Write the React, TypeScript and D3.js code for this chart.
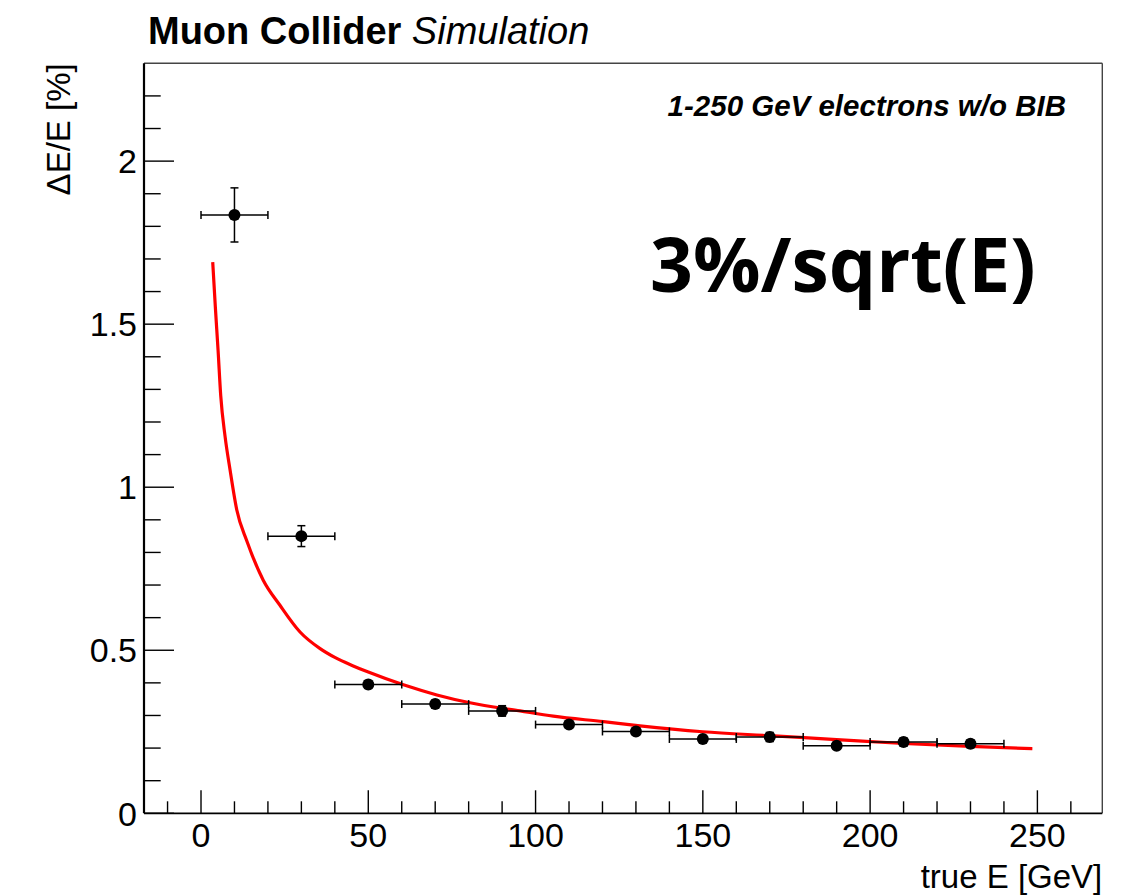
import React from "react";
import * as d3 from "d3";

// ---- data ----
const pointE = [10, 30, 50, 70, 90, 110, 130, 150, 170, 190, 210, 230];
const pointRes = [1.835, 0.85, 0.395, 0.335, 0.314, 0.272, 0.251, 0.228, 0.234, 0.207, 0.219, 0.213];
const pointErrY = [0.083, 0.032, 0.012, 0.012, 0.016, 0.01, 0.01, 0.01, 0.014, 0.01, 0.012, 0.012];
const pointErrX = [10, 10, 10, 10, 10, 10, 10, 10, 10, 10, 10, 10];

const fitE = [3.5, 4.3, 5.1, 5.9, 7.2, 8.7, 10.7, 13.7, 18.6, 23.6, 29.6, 35.6, 40, 45.5, 50, 60.5, 70.5, 80.4, 95.4, 105.3, 120.3, 131.2, 150, 170, 190, 210, 230, 248.5];
const fitRes = [1.69, 1.55, 1.42, 1.28, 1.155, 1.052, 0.93, 0.835, 0.715, 0.638, 0.556, 0.505, 0.478, 0.452, 0.433, 0.394, 0.363, 0.339, 0.314, 0.298, 0.281, 0.268, 0.25, 0.238, 0.226, 0.214, 0.205, 0.198];

const xMajorTicks = [0, 50, 100, 150, 200, 250];
const yMajorTicks = [0, 0.5, 1, 1.5, 2];
const yTickLabels = ["0", "0.5", "1", "1.5", "2"];

const W = 1137;
const H = 895;
const left = 144;
const right = 1102.3;
const top = 63.3;
const bottom = 813.3;

export default function App() {
  const x = d3.scaleLinear().domain([-17.04, 269.4]).range([left, right]);
  const y = d3.scaleLinear().domain([0, 2.3]).range([bottom, top]);

  const xMinor = d3.range(-10, 261, 10).filter((v) => v % 50 !== 0);
  const yMinor = d3.range(0.1, 2.25, 0.1).filter((v) => Math.abs(Math.round(v * 2) - v * 2) > 1e-6);

  const fitLine = d3
    .line<number>()
    .x((_, i) => x(fitE[i]))
    .y((d) => y(d))
    .curve(d3.curveMonotoneX)(fitRes) as string;

  const helv = "'Liberation Sans', Arial, Helvetica, sans-serif";
  const cap = 4;

  return (
    <svg width={W} height={H} style={{ position: "absolute", left: 0, top: 0, background: "#fff" }}>
      <rect x={0} y={0} width={W} height={H} fill="#fff" />
      {/* title */}
      <text x={148} y={44} fontFamily={helv} fontSize={38} fill="#000">
        <tspan fontWeight="bold">Muon Collider</tspan>
        <tspan fontStyle="italic"> Simulation</tspan>
      </text>

      {/* frame */}
      <line x1={left} x2={right} y1={top} y2={top} stroke="#444" strokeWidth={1.4} />
      <line x1={right} x2={right} y1={top} y2={bottom} stroke="#444" strokeWidth={1.4} />
      <line x1={left} x2={right} y1={bottom} y2={bottom} stroke="#000" strokeWidth={1.7} />
      <line x1={left} x2={left} y1={top} y2={bottom} stroke="#000" strokeWidth={2.2} />

      {/* x ticks */}
      {xMajorTicks.map((t) => (
        <g key={"xm" + t}>
          <line x1={x(t)} x2={x(t)} y1={bottom} y2={bottom - 23} stroke="#000" strokeWidth={1.4} />
          <text x={x(t)} y={847} textAnchor="middle" fontFamily={helv} fontSize={34} fill="#000">
            {t}
          </text>
        </g>
      ))}
      {xMinor.map((t) => (
        <line key={"xn" + t} x1={x(t)} x2={x(t)} y1={bottom} y2={bottom - 12} stroke="#000" strokeWidth={1.4} />
      ))}

      {/* y ticks */}
      {yMajorTicks.map((t, i) => (
        <g key={"ym" + t}>
          <line x1={left} x2={left + 30} y1={y(t)} y2={y(t)} stroke="#000" strokeWidth={1.4} />
          <text x={137} y={y(t)} dy="0.36em" textAnchor="end" fontFamily={helv} fontSize={34} fill="#000">
            {yTickLabels[i]}
          </text>
        </g>
      ))}
      {yMinor.map((t) => (
        <line key={"yn" + t.toFixed(1)} x1={left} x2={left + 16.7} y1={y(t)} y2={y(t)} stroke="#000" strokeWidth={1.4} />
      ))}

      {/* axis titles */}
      <text
        transform={`translate(70,${top}) rotate(-90)`}
        textAnchor="end"
        fontFamily={helv}
        fontSize={33}
        fill="#000"
      >
        ΔE/E [%]
      </text>
      <text x={right} y={888} textAnchor="end" fontFamily={helv} fontSize={33} fill="#000">
        true E [GeV]
      </text>

      {/* fit curve */}
      <path d={fitLine} fill="none" stroke="#ff0000" strokeWidth={3.2} />

      {/* data points */}
      {pointE.map((e, i) => {
        const cx = x(e);
        const cy = y(pointRes[i]);
        const x0 = x(e - pointErrX[i]);
        const x1 = x(e + pointErrX[i]);
        const y0 = y(pointRes[i] - pointErrY[i]);
        const y1 = y(pointRes[i] + pointErrY[i]);
        return (
          <g key={"p" + i} stroke="#000" strokeWidth={1.5}>
            <line x1={x0} x2={x1} y1={cy} y2={cy} />
            <line x1={x0} x2={x0} y1={cy - cap} y2={cy + cap} />
            <line x1={x1} x2={x1} y1={cy - cap} y2={cy + cap} />
            <line x1={cx} x2={cx} y1={y0} y2={y1} />
            <line x1={cx - cap} x2={cx + cap} y1={y0} y2={y0} />
            <line x1={cx - cap} x2={cx + cap} y1={y1} y2={y1} />
            <circle cx={cx} cy={cy} r={6} fill="#000" stroke="none" />
          </g>
        );
      })}

      {/* annotations */}
      <text
        x={1066}
        y={116}
        textAnchor="end"
        fontFamily={helv}
        fontSize={29.5}
        fontWeight="bold"
        fontStyle="italic"
        fill="#000"
      >
        1-250 GeV electrons w/o BIB
      </text>
      <text x={650} y={292} fontFamily="'Open Sans', 'Noto Sans', sans-serif" fontSize={75} fontWeight="bold" fill="#000">
        3%/sqrt(E)
      </text>
    </svg>
  );
}
